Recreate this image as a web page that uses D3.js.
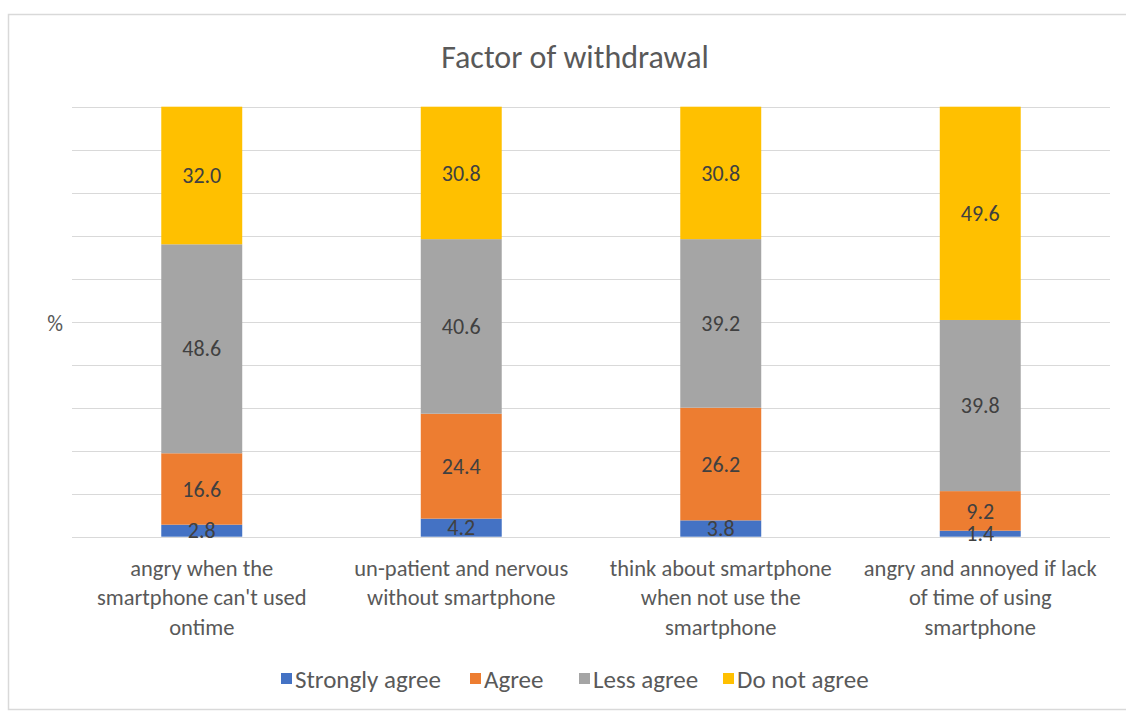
<!DOCTYPE html>
<html>
<head>
<meta charset="utf-8">
<script src="https://cdn.jsdelivr.net/npm/d3@7"></script>
<style>
  html, body { margin: 0; padding: 0; background: #ffffff; }
  svg { display: block; }
  text { font-family: Carlito, Calibri, Lato, "Open Sans", sans-serif; }
</style>
</head>
<body>
<svg id="chart" width="1126" height="711"></svg>
<script>
// Survey answers per statement, percent of respondents
const categories = [
  ["angry when the", "smartphone can't used", "ontime"],
  ["un-patient and nervous", "without smartphone"],
  ["think about smartphone", "when not use the", "smartphone"],
  ["angry and annoyed if lack", "of time of using", "smartphone"]
];
const seriesNames = ["Strongly agree", "Agree", "Less agree", "Do not agree"];
const stronglyAgree = [2.8, 4.2, 3.8, 1.4];
const agree = [16.6, 24.4, 26.2, 9.2];
const lessAgree = [48.6, 40.6, 39.2, 39.8];
const doNotAgree = [32.0, 30.8, 30.8, 49.6];
const gridTicks = [0, 10, 20, 30, 40, 50, 60, 70, 80, 90, 100];

const colors = ["#4472C4", "#ED7D31", "#A5A5A5", "#FFC000"];
const textColor = "#595959";

const svg = d3.select("#chart");

// chart frame
svg.append("rect")
  .attr("x", 8.5).attr("y", 14.5)
  .attr("width", 1130).attr("height", 695)
  .attr("fill", "#ffffff")
  .attr("stroke", "#d9d9d9").attr("stroke-width", 1.5);

const plot = { left: 72, right: 1110, top: 106.7, bottom: 536.7 };

const rows = categories.map((c, i) => ({
  key: i,
  "Strongly agree": stronglyAgree[i],
  "Agree": agree[i],
  "Less agree": lessAgree[i],
  "Do not agree": doNotAgree[i]
}));

const x = d3.scaleBand()
  .domain(d3.range(categories.length))
  .range([plot.left, plot.right])
  .paddingInner(0.688)
  .paddingOuter(0.344);

const y = d3.scaleLinear().domain([0, 100]).range([plot.bottom, plot.top]);

// horizontal gridlines
svg.append("g")
  .selectAll("line")
  .data(gridTicks)
  .join("line")
  .attr("x1", plot.left).attr("x2", plot.right)
  .attr("y1", d => Math.round(y(d)) + 0.5)
  .attr("y2", d => Math.round(y(d)) + 0.5)
  .attr("stroke", "#d9d9d9").attr("stroke-width", 1);

const stacked = d3.stack().keys(seriesNames)(rows);

const layers = svg.append("g")
  .selectAll("g")
  .data(stacked)
  .join("g")
  .attr("fill", (d, i) => colors[i]);

layers.selectAll("rect")
  .data(d => d)
  .join("rect")
  .attr("x", d => x(d.data.key))
  .attr("width", x.bandwidth())
  .attr("y", d => y(d[1]))
  .attr("height", d => y(d[0]) - y(d[1]));

// value labels centred in each segment
const labels = svg.append("g");
stacked.forEach(layer => {
  layer.forEach(d => {
    labels.append("text")
      .attr("x", x(d.data.key) + x.bandwidth() / 2)
      .attr("y", (y(d[0]) + y(d[1])) / 2)
      .attr("dy", "0.35em")
      .attr("text-anchor", "middle")
      .attr("font-size", 22)
      .attr("fill", "#404040")
      .text((d[1] - d[0]).toFixed(1));
  });
});

// category labels
const catG = svg.append("g");
categories.forEach((lines, i) => {
  const t = catG.append("text")
    .attr("text-anchor", "middle")
    .attr("font-size", 22.5)
    .attr("fill", textColor);
  lines.forEach((ln, j) => {
    t.append("tspan")
      .attr("x", x(i) + x.bandwidth() / 2)
      .attr("y", 568 + j * 29.5)
      .attr("dy", "0.35em")
      .text(ln);
  });
});

// axis unit
svg.append("text")
  .attr("x", 55).attr("y", 323)
  .attr("dy", "0.35em")
  .attr("text-anchor", "middle")
  .attr("font-size", 22)
  .attr("fill", textColor)
  .text("%");

// title
svg.append("text")
  .attr("x", 575).attr("y", 57)
  .attr("dy", "0.35em")
  .attr("text-anchor", "middle")
  .attr("font-size", 32)
  .attr("fill", textColor)
  .text("Factor of withdrawal");

// legend
const legendX = [281, 470, 579, 723];
const legend = svg.append("g");
seriesNames.forEach((name, i) => {
  legend.append("rect")
    .attr("x", legendX[i]).attr("y", 673)
    .attr("width", 11).attr("height", 11)
    .attr("fill", colors[i]);
  legend.append("text")
    .attr("x", legendX[i] + 14).attr("y", 679)
    .attr("dy", "0.35em")
    .attr("font-size", 25)
    .attr("fill", textColor)
    .text(name);
});
</script>
</body>
</html>
